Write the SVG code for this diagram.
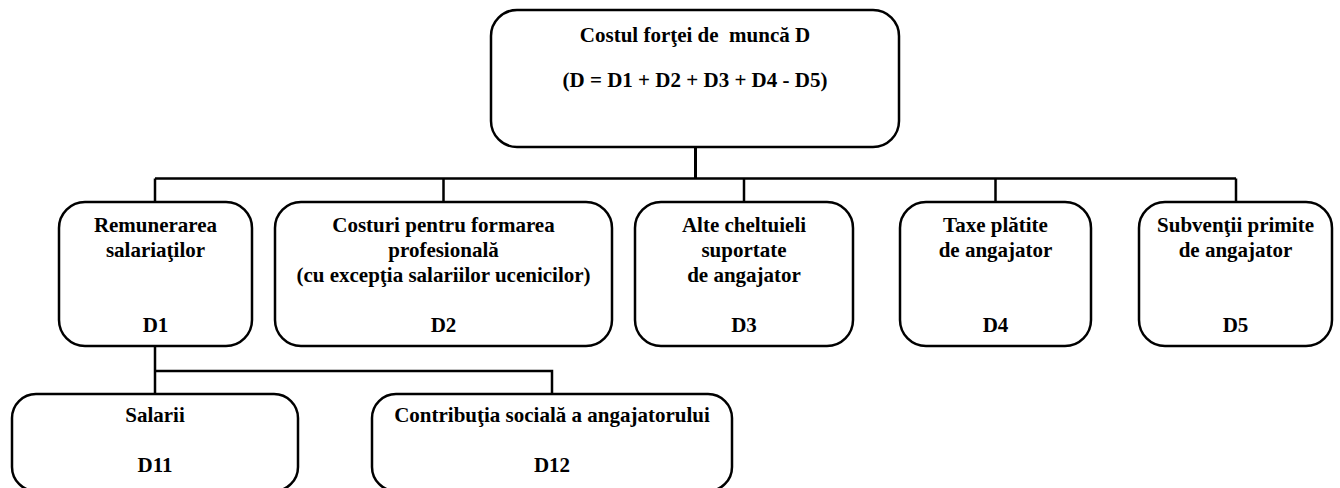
<svg xmlns="http://www.w3.org/2000/svg" width="1340" height="488" viewBox="0 0 1340 488">
<style>
.box{fill:#fff;stroke:#000;stroke-width:2.5}
text{font-family:'Liberation Serif','Times New Roman','DejaVu Serif',serif;font-weight:bold;font-size:21px;fill:#000;text-anchor:middle}
.c{fill:none;stroke:#000;stroke-width:2.5}
</style>
<rect width="1340" height="488" fill="#fff"/>
<g id="connectors">
<path class="c" style="stroke-width:3" d="M695.5,147 V179"/>
<path class="c" d="M155,178.5 H1236 M155,178.5 V202 M443.5,178.5 V202 M744,178.5 V202 M995.5,178.5 V202 M1236,178.5 V202"/>
<path class="c" d="M155,346 V394 M155,371 H552 V394"/>
</g>
<g id="D">
<rect class="box" x="491" y="10" width="408" height="137" rx="26"/>
<text x="695" y="42" xml:space="preserve">Costul forţei de  muncă D</text>
<text x="695" y="87">(D = D1 + D2 + D3 + D4 - D5)</text>
</g>
<g id="D1">
<rect class="box" x="59" y="202" width="193" height="144" rx="26"/>
<text x="155.5" y="232">Remunerarea</text>
<text x="155.5" y="257">salariaţilor</text>
<text x="155.5" y="332">D1</text>
</g>
<g id="D2">
<rect class="box" x="275" y="202" width="337" height="144" rx="26"/>
<text x="443.5" y="232">Costuri pentru formarea</text>
<text x="443.5" y="257">profesională</text>
<text x="443.5" y="282">(cu excepţia salariilor ucenicilor)</text>
<text x="443.5" y="332">D2</text>
</g>
<g id="D3">
<rect class="box" x="635" y="202" width="218" height="144" rx="26"/>
<text x="744" y="232">Alte cheltuieli</text>
<text x="744" y="257">suportate</text>
<text x="744" y="282">de angajator</text>
<text x="744" y="332">D3</text>
</g>
<g id="D4">
<rect class="box" x="900" y="202" width="191" height="144" rx="26"/>
<text x="995.5" y="232">Taxe plătite</text>
<text x="995.5" y="257">de angajator</text>
<text x="995.5" y="332">D4</text>
</g>
<g id="D5">
<rect class="box" x="1139" y="202" width="193" height="144" rx="26"/>
<text x="1235.5" y="232">Subvenţii primite</text>
<text x="1235.5" y="257">de angajator</text>
<text x="1235.5" y="332">D5</text>
</g>
<g id="D11">
<rect class="box" x="12" y="394" width="286" height="97" rx="24"/>
<text x="155" y="422">Salarii</text>
<text x="155" y="472">D11</text>
</g>
<g id="D12">
<rect class="box" x="372" y="394" width="360" height="97" rx="24"/>
<text x="552" y="422">Contribuţia socială a angajatorului</text>
<text x="552" y="472">D12</text>
</g>
</svg>
